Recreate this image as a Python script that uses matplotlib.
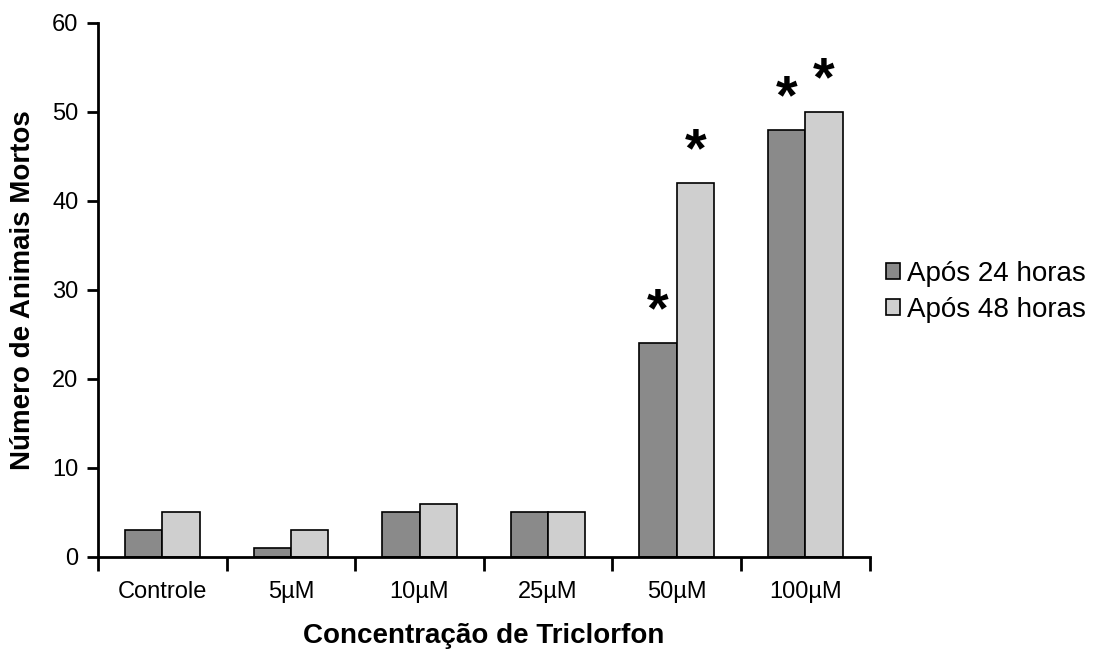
import matplotlib.pyplot as plt
import numpy as np

plt.rcParams["font.family"] = ["Liberation Sans", "DejaVu Sans"]

categories = ["Controle", "5µM", "10µM", "25µM", "50µM", "100µM"]
after_24h = [3, 1, 5, 5, 24, 48]
after_48h = [5, 3, 6, 5, 42, 50]
# significance marks
stars_24h = [False, False, False, False, True, True]
stars_48h = [False, False, False, False, True, True]

fig = plt.figure(figsize=(10.98, 6.49), dpi=100)
ax = fig.add_axes([0.0893, 0.1418, 0.7027, 0.8228])

x = np.arange(len(categories))
width = 0.29

b1 = ax.bar(x - width / 2, after_24h, width, color="#8a8a8a",
            edgecolor="black", linewidth=1.2, label="Após 24 horas")
b2 = ax.bar(x + width / 2, after_48h, width, color="#cfcfcf",
            edgecolor="black", linewidth=1.2, label="Após 48 horas")

for i in range(len(categories)):
    if stars_24h[i]:
        ax.text(x[i] - width / 2, after_24h[i] + 1.9, "*", ha="center",
                va="baseline", fontsize=40, fontweight="bold")
    if stars_48h[i]:
        ax.text(x[i] + width / 2, after_48h[i] + 1.9, "*", ha="center",
                va="baseline", fontsize=40, fontweight="bold")

ax.set_xlim(-0.5, len(categories) - 0.5)
ax.set_ylim(0, 60)
ax.set_yticks(range(0, 61, 10))

# ticks at category boundaries, labels centred on groups
ax.set_xticks(np.arange(-0.5, len(categories), 1.0))
ax.set_xticklabels([])
ax.set_xticks(x, minor=True)
ax.set_xticklabels(categories, minor=True)
ax.tick_params(axis="x", which="major", direction="out", length=10, width=2)
ax.tick_params(axis="x", which="minor", length=0, pad=17, labelsize=17)
ax.tick_params(axis="y", direction="out", length=8, width=2, labelsize=17,
               pad=6)

for side in ["top", "right"]:
    ax.spines[side].set_visible(False)
ax.spines["left"].set_linewidth(2)
ax.spines["bottom"].set_linewidth(2)

ax.set_xlabel("Concentração de Triclorfon", fontsize=20, fontweight="bold",
              labelpad=15)
ax.set_ylabel("Número de Animais Mortos", fontsize=20, fontweight="bold",
              labelpad=12)

fig.legend(handles=[b1, b2], loc="center left", bbox_to_anchor=(0.797, 0.55),
           frameon=False, fontsize=20, handlelength=0.5, handleheight=0.5,
           handletextpad=0.25, labelspacing=0.35, borderaxespad=0)

fig.savefig("out.png", dpi=100)
